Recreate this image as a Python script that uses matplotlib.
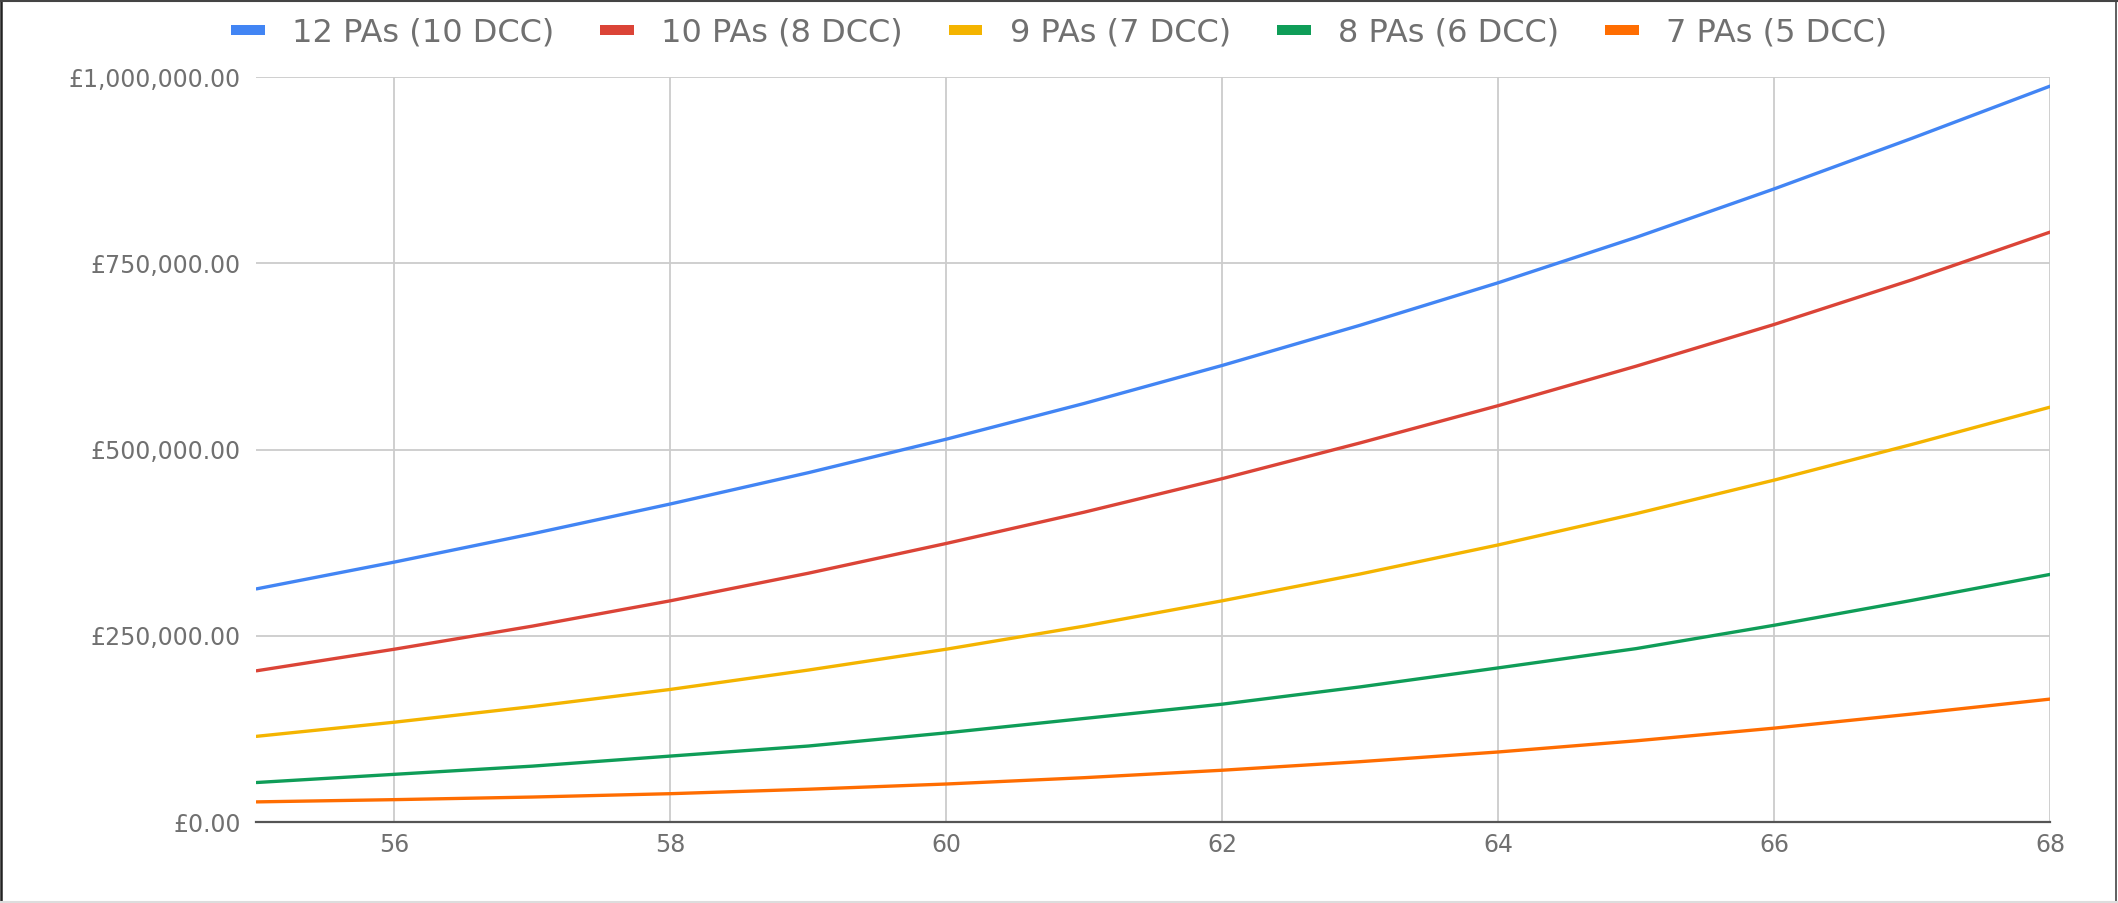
import matplotlib
matplotlib.use('Agg')
import matplotlib.pyplot as plt
from matplotlib.lines import Line2D
from matplotlib.ticker import FuncFormatter

# age on the x axis
ages = [55, 56, 57, 58, 59, 60, 61, 62, 63, 64, 65, 66, 67, 68]

# pot value (GBP) for each team size
pa12 = [313000, 349000, 387000, 427000, 469000, 514000, 562000,
        613000, 667000, 724000, 785000, 850000, 918000, 988000]
pa10 = [203000, 232000, 263000, 297000, 334000, 374000, 416000,
        461000, 509000, 559000, 612000, 668000, 728000, 792000]
pa9 = [115000, 134000, 155000, 178000, 204000, 232000, 263000,
       297000, 333000, 372000, 414000, 459000, 507000, 557000]
pa8 = [53000, 64000, 75000, 88500, 102000, 119700, 139000,
       158200, 181400, 206900, 232800, 264100, 297600, 332400]
pa7 = [27000, 30000, 33500, 38000, 44000, 51000, 59500,
       69500, 81000, 94000, 109000, 126000, 145000, 165000]

labels = ['12 PAs (10 DCC)', '10 PAs (8 DCC)', '9 PAs (7 DCC)',
          '8 PAs (6 DCC)', '7 PAs (5 DCC)']
colors = ['#4285F4', '#DB4437', '#F4B400', '#0F9D58', '#FF6D01']
series = [pa12, pa10, pa9, pa8, pa7]

x_ticks = [56, 58, 60, 62, 64, 66, 68]
y_ticks = [0, 250000, 500000, 750000, 1000000]

fig = plt.figure(figsize=(21.18, 9.031), dpi=100)
ax = fig.add_axes([0.1211, 0.0897, 0.9679 - 0.1211, 0.9144 - 0.0897])

for vals, c, lab in zip(series, colors, labels):
    ax.plot(ages, vals, color=c, lw=2.4, label=lab, solid_capstyle='round')

ax.set_xlim(55, 68)
ax.set_ylim(0, 1000000)
ax.set_xticks(x_ticks)
ax.set_yticks(y_ticks)
ax.yaxis.set_major_formatter(FuncFormatter(lambda v, p: '£{:,.2f}'.format(v)))

ax.set_axisbelow(True)
ax.grid(True, color='#cccccc', lw=1.3)
ax.tick_params(axis='both', length=0, labelsize=17, labelcolor='#707070')
ax.tick_params(axis='y', pad=11.5)
ax.tick_params(axis='x', pad=8)

for s in ['left', 'top', 'right']:
    ax.spines[s].set_visible(False)
ax.spines['bottom'].set_color('#555555')
ax.spines['bottom'].set_linewidth(1.6)

# legend strip across the top
handles = [Line2D([0], [0], color=c, lw=7.2, solid_capstyle='butt') for c in colors]
fig.legend(handles, labels, loc='center', bbox_to_anchor=(0.5, 1 - 32.7 / 903),
           ncol=5, frameon=False, fontsize=23, labelcolor='#707070',
           handlelength=1.05, handletextpad=0.85, columnspacing=1.45)

# outer frame
fig.add_artist(Line2D([0.0007, 0.0007], [0, 1], transform=fig.transFigure, color='#222222', lw=1.8))
fig.add_artist(Line2D([0, 1], [0.999, 0.999], transform=fig.transFigure, color='#444444', lw=1.5))
fig.add_artist(Line2D([0.9992, 0.9992], [0, 1], transform=fig.transFigure, color='#444444', lw=1.2))
fig.add_artist(Line2D([0, 1], [0.0015, 0.0015], transform=fig.transFigure, color='#dddddd', lw=1.5))

fig.savefig('out.png', dpi=100, facecolor='white')
